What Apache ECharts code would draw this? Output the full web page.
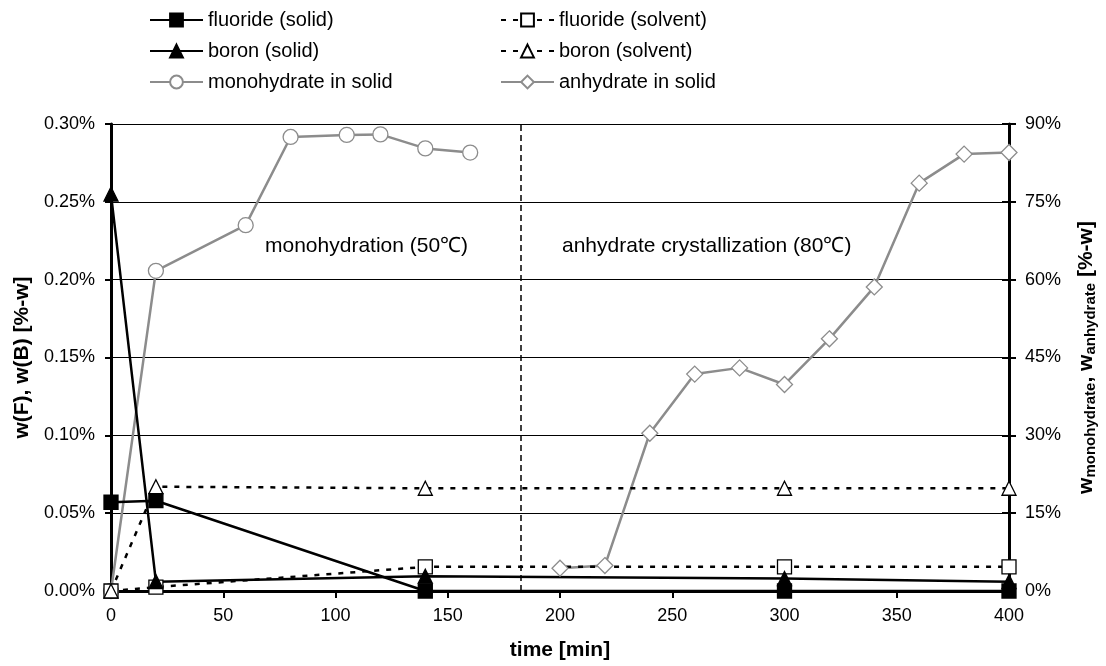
<!DOCTYPE html>
<html>
<head>
<meta charset="utf-8">
<script src="https://cdn.jsdelivr.net/npm/echarts@6/dist/echarts.min.js"></script>
<style>html,body{margin:0;padding:0;background:#fff;overflow:hidden;}#c{width:1106px;height:666px;}</style>
</head>
<body>
<div id="c"></div>
<script>
// time [min]
const fluorideSolid = [[0,0.057],[20,0.058],[140,0.0],[300,0.0],[400,0.0]];
const boronSolid = [[0,0.255],[20,0.006],[140,0.0095],[300,0.008],[400,0.006]];
const fluorideSolvent = [[0,0.0],[20,0.0025],[140,0.0155],[300,0.0155],[400,0.0155]];
const boronSolvent = [[0,0.0],[20,0.067],[140,0.066],[300,0.066],[400,0.066]];
const monohydrate = [[0,0],[20,61.7],[60,70.5],[80,87.5],[105,87.9],[120,88.0],[140,85.3],[160,84.5]];
const anhydrate = [[200,4.4],[220,4.9],[240,30.4],[260,41.8],[280,43.0],[300,39.8],[320,48.6],[340,58.6],[360,78.6],[380,84.2],[400,84.5]];
const phaseBoundary = 182.5;
const annotations = ['monohydration (50℃)', 'anhydrate crystallization (80℃)'];

const FONT = '"Liberation Sans", Arial, sans-serif';
const chart = echarts.init(document.getElementById('c'), null, {renderer:'canvas', width:1106, height:666});
const grey = '#8c8c8c';
function ser(name, data, yIdx, color, symbol, filled, dashed){
  return {
    name, type:'line', data, yAxisIndex:yIdx,
    symbol, symbolSize: symbol==='diamond'?16:(symbol==='circle'?15:14),
    lineStyle:{color, width:2.5, type: dashed?[5,7]:'solid'},
    itemStyle:{color: filled?color:'#fff', borderColor:color, borderWidth:1.3},
    emphasis:{disabled:true}, animation:false
  };
}
const s1 = ser('fluoride (solid)', fluorideSolid, 0, '#000', 'rect', true, false);
s1.markLine = {symbol:'none', silent:true, animation:false, label:{show:false},
  lineStyle:{color:'#000', type:[6,4], width:1.5}, data:[{xAxis:phaseBoundary}]};
const legendText = {fontSize:20, color:'#000', fontFamily:FONT};
const option = {
  backgroundColor:'#fff',
  textStyle:{fontFamily:FONT},
  grid:{left:111, right:89, top:124, bottom:75},
  legend:[
    {orient:'vertical', left:144, top:5, itemWidth:53, itemHeight:16, itemGap:11,
     textStyle:legendText,
     data:['fluoride (solid)','boron (solid)','monohydrate in solid']},
    {orient:'vertical', left:495, top:5, itemWidth:53, itemHeight:16, itemGap:11,
     textStyle:legendText,
     data:['fluoride (solvent)','boron (solvent)','anhydrate in solid']}
  ],
  xAxis:{type:'value', min:0, max:400, interval:50,
    name:'time [min]', nameLocation:'middle', nameGap:49,
    nameTextStyle:{fontSize:21, fontWeight:'bold', color:'#000', fontFamily:FONT, verticalAlign:'top'},
    axisLine:{lineStyle:{color:'#000', width:3}},
    axisTick:{show:true, length:7, lineStyle:{color:'#000', width:2}},
    axisLabel:{fontSize:18, color:'#000', margin:16, fontFamily:FONT},
    splitLine:{show:false}},
  yAxis:[
    {type:'value', min:0, max:0.30, interval:0.05, position:'left',
     name:'w(F), w(B) [%-w]', nameLocation:'middle', nameGap:78,
     nameTextStyle:{fontSize:21, fontWeight:'bold', color:'#000', fontFamily:FONT},
     axisLine:{show:true, lineStyle:{color:'#000', width:3}},
     axisTick:{show:true, length:6, lineStyle:{color:'#000', width:2}},
     axisLabel:{fontSize:18, color:'#000', margin:16, fontFamily:FONT, formatter:v=>v.toFixed(2)+'%'},
     splitLine:{show:true, lineStyle:{color:'#000', width:1}}},
    {type:'value', min:0, max:90, interval:15, position:'right',
     name:'w{s|monohydrate}, w{s|anhydrate} [%-w]', nameLocation:'middle', nameGap:66, nameRotate:90,
     nameTextStyle:{fontSize:21, fontWeight:'bold', color:'#000', fontFamily:FONT,
       rich:{s:{fontSize:15, fontWeight:'bold', color:'#000', fontFamily:FONT, padding:[8,0,0,0]}}},
     axisLine:{show:true, lineStyle:{color:'#000', width:3}},
     axisTick:{show:true, length:7, lineStyle:{color:'#000', width:2}},
     axisLabel:{fontSize:18, color:'#000', margin:16, fontFamily:FONT, formatter:v=>v+'%'},
     splitLine:{show:false}},
    {type:'value', min:0, max:90, interval:15, position:'right',
     axisLine:{show:false},
     axisTick:{show:true, inside:true, length:7, lineStyle:{color:'#000', width:2}},
     axisLabel:{show:false}, splitLine:{show:false}}
  ],
  graphic:[
    {type:'text', left:265, top:236, style:{text:annotations[0], fontSize:21, fill:'#000', fontFamily:FONT}},
    {type:'text', left:562, top:236, style:{text:annotations[1], fontSize:21, fill:'#000', fontFamily:FONT}}
  ],
  series:[
    ser('monohydrate in solid', monohydrate, 1, grey, 'circle', false, false),
    ser('anhydrate in solid', anhydrate, 1, grey, 'diamond', false, false),
    ser('fluoride (solvent)', fluorideSolvent, 0, '#000', 'rect', false, true),
    ser('boron (solvent)', boronSolvent, 0, '#000', 'triangle', false, true),
    s1,
    ser('boron (solid)', boronSolid, 0, '#000', 'triangle', true, false)
  ]
};
chart.setOption(option);
</script>
</body>
</html>
